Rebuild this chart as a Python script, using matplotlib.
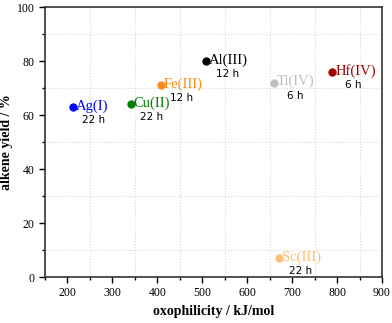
import matplotlib.pyplot as plt
from matplotlib.ticker import MultipleLocator

metals = ['Ag(I)', 'Cu(II)', 'Fe(III)', 'Al(III)', 'Ti(IV)', 'Hf(IV)', 'Sc(III)']
oxophilicity = [212, 341, 408, 509, 660, 789, 671]
alkene_yield = [63, 64, 71, 80, 72, 76, 7]
times = ['22 h', '22 h', '12 h', '12 h', '6 h', '6 h', '22 h']
colors = ['#0000ff', '#008000', '#ff8c1a', '#000000', '#c0c0c0', '#a00000', '#ffbf73']

serif = ['Liberation Serif', 'DejaVu Serif']

fig = plt.figure(figsize=(3.92, 3.23), dpi=100)
ax = fig.add_axes([45 / 392, 46 / 323, 337 / 392, 270 / 323])

for x, y, name, t, c in zip(oxophilicity, alkene_yield, metals, times, colors):
    ax.plot(x, y, 'o', color=c, ms=5, zorder=3)
    ax.annotate(name, (x, y), xytext=(3, 1), textcoords='offset pixels',
                ha='left', va='center', color=c, fontsize=10.5, family=serif)
    ax.annotate(t, (x, y), xytext=(21, -13), textcoords='offset pixels',
                ha='center', va='center', color='black', fontsize=7.5, family='DejaVu Sans')

ax.set_xlim(150, 900)
ax.set_ylim(0, 100)
ax.xaxis.set_major_locator(MultipleLocator(100))
ax.xaxis.set_minor_locator(MultipleLocator(50))
ax.yaxis.set_major_locator(MultipleLocator(20))
ax.yaxis.set_minor_locator(MultipleLocator(10))
ax.grid(which='minor', color='#d8d8d8', linestyle=':', linewidth=0.8)

ax.tick_params(which='major', direction='out', length=4, width=1, labelsize=8.5)
ax.tick_params(which='minor', direction='out', length=2.5, width=1)
for lab in ax.get_xticklabels() + ax.get_yticklabels():
    lab.set_family(serif)
for s in ax.spines.values():
    s.set_linewidth(1.2)
    s.set_color('#333333')

ax.set_xlabel('oxophilicity / kJ/mol', fontsize=10, fontweight='bold', family=serif)
ax.set_ylabel('alkene yield / %', fontsize=10, fontweight='bold', family=serif)
ax.yaxis.set_label_coords(-0.094, 0.5)

fig.savefig('out.png', dpi=100)
